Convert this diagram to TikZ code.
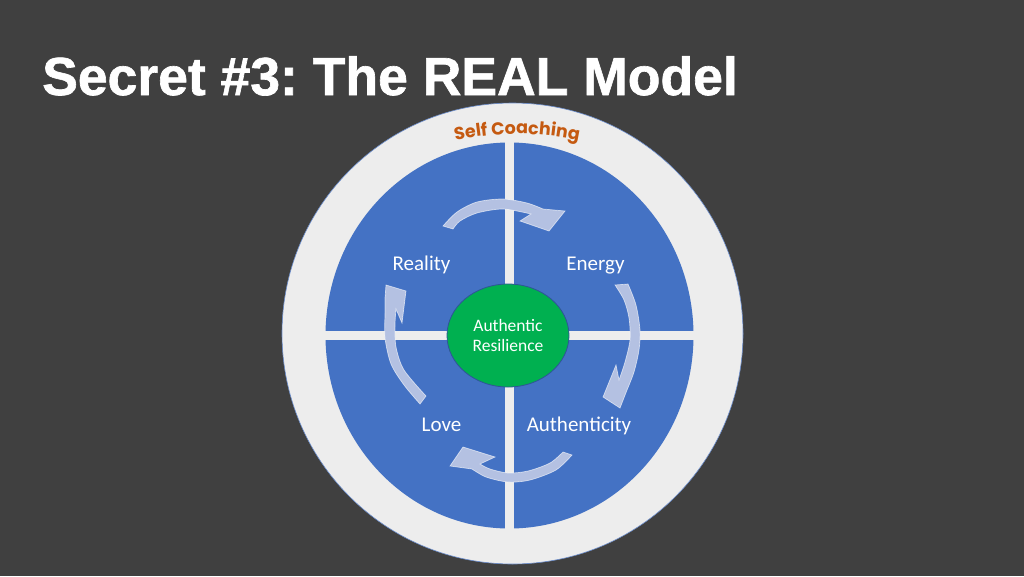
\documentclass[tikz,border=0pt]{standalone}
\usepackage{fontspec}
\usepackage{tikz}
\usetikzlibrary{shapes.geometric,decorations.text}
\setmainfont{Carlito}
\newfontfamily\titlefont[BoldFeatures={FakeBold=1.2}]{Liberation Sans}
\newfontfamily\coachfont{Poppins}
\frenchspacing
\definecolor{bggray}{HTML}{404040}
\definecolor{ringgray}{HTML}{EDEDED}
\definecolor{ringedge}{HTML}{6A8CCB}
\definecolor{quadblue}{HTML}{4472C4}
\definecolor{arrowblue}{HTML}{B4C1E2}
\definecolor{coregreen}{HTML}{00B050}
\definecolor{coreedge}{HTML}{2F5597}
\definecolor{coachorange}{HTML}{C55A11}
\tikzset{ring/.style={fill=ringgray,draw=ringedge,line width=0.6pt}}
\tikzset{quadrant/.style={fill=quadblue}}
\tikzset{gap/.style={draw=ringgray,line width=9pt}}
\tikzset{looparrow/.style={fill=arrowblue,draw=white,draw opacity=0.6,line width=0.7pt,line join=miter}}
\tikzset{core/.style={ellipse,fill=coregreen,draw=coreedge,line width=0.8pt,minimum width=122pt,minimum height=103pt,inner sep=0pt,text=white,align=center,font=\fontsize{17.5}{20.6}\selectfont}}
\tikzset{stage/.style={anchor=base,inner sep=0pt,text=white,font=\fontsize{21}{24}\selectfont}}

\begin{document}
\begin{tikzpicture}[x=1pt,y=-1pt]
  \useasboundingbox (0,0) rectangle (1024,576);
  \fill[bggray] (0,0) rectangle (1024,576);

  % Title
  \node[anchor=base west,inner sep=0pt,text=white] (title) at (42,95)
    {\titlefont\bfseries\fontsize{53.5}{60}\selectfont Secret \#3: The REAL Model};

  % Rings and quadrants
  \draw[ring] (512.5,333.5) circle[radius=230.5];
  \fill[quadrant] (509.5,335.5) ellipse[x radius=184,y radius=193];
  \draw[gap] (509.5,140) -- (509.5,531);
  \draw[gap] (322,335.5) -- (697,335.5);

  % Self Coaching along the ring
  \path[decorate,decoration={text along path,text align=center,text color=coachorange,
      text={|\coachfont\bfseries\fontsize{17.5}{20}\selectfont|Self Coaching}}]
    ([shift={(-112:300)}]517,434) arc[start angle=-112,end angle=-68,radius=300];

  % Cycle arrows
  \filldraw[looparrow] plot[smooth] coordinates {(443,226) (457,212) (477,202) (503,199) (527,203) (543,209)}
    -- (565,211) -- (549,231) -- (520,221) -- (531,214)
    -- plot[smooth] coordinates {(531,214) (503,209) (477,213) (460,221) (453,229)} -- cycle;
  \filldraw[looparrow] plot[smooth] coordinates {(628,284) (636,305) (640,330) (639,350) (634,372) (627,390)}
    -- (620,408) -- (603,397) -- (616,365) -- (619,380)
    -- plot[smooth] coordinates {(619,380) (625,362) (630,340) (629,318) (624,300) (615,285)} -- cycle;
  \filldraw[looparrow] plot[smooth] coordinates {(572,455) (556,470) (530,480) (508,482) (486,477) (472,469)}
    -- (450,466) -- (463,447) -- (495,457) -- (480,464)
    -- plot[smooth] coordinates {(480,464) (490,469) (508,473) (528,471) (550,463) (563,452)} -- cycle;
  \filldraw[looparrow] plot[smooth] coordinates {(420,404) (404,385) (391,364) (385,338) (385,313) (385,298)}
    -- (386,285) -- (406,291) -- (402,323) -- (396,309)
    -- plot[smooth] coordinates {(396,309) (395,325) (396,347) (404,370) (426,396)} -- cycle;

  % Centre
  \node[core] (core) at (508,335.5) {Authentic\\Resilience};

  % Label stages
  \node[stage] (reality) at (421.5,270) {Reality};
  \node[stage] (energy) at (595.5,270) {Energy};
  \node[stage] (authenticity) at (579,431) {Authenticity};
  \node[stage] (love) at (441.5,431) {Love};
\end{tikzpicture}
\end{document}
